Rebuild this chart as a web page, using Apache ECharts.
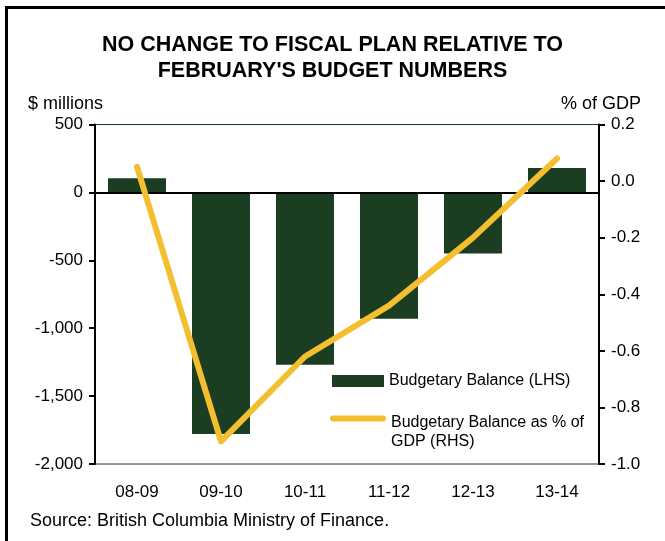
<!DOCTYPE html>
<html>
<head>
<meta charset="utf-8">
<script src="https://cdn.jsdelivr.net/npm/echarts@6/dist/echarts.min.js"></script>
<style>
  html, body { margin: 0; padding: 0; background: #ffffff; }
  #chart { width: 665px; height: 541px; }
</style>
</head>
<body>
<div id="chart"></div>
<script>
// ---- Data ----
var categories = ['08-09', '09-10', '10-11', '11-12', '12-13', '13-14'];
var balanceMillions = [105, -1780, -1270, -930, -450, 180];
var balancePctGdp = [0.05, -0.92, -0.62, -0.44, -0.20, 0.08];
var leftTicks = { min: -2000, max: 500, step: 500 };
var rightTicks = { min: -1.0, max: 0.2, step: 0.2 };

var titleText = "NO CHANGE TO FISCAL PLAN RELATIVE TO\nFEBRUARY'S BUDGET NUMBERS";
var leftAxisTitle = '$ millions';
var rightAxisTitle = '% of GDP';
var sourceText = 'Source: British Columbia Ministry of Finance.';
var barName = 'Budgetary Balance (LHS)';
var lineName = 'Budgetary Balance as % of GDP (RHS)';

var FONT = 'Liberation Sans, Arial, Helvetica, sans-serif';
var GREEN = '#1B3D22';
var GOLD = '#F3BF2F';

var chart = echarts.init(document.getElementById('chart'), null, { renderer: 'canvas' });

var option = {
  backgroundColor: '#ffffff',
  animation: false,
  title: {
    text: titleText,
    left: 'center',
    top: 27,
    textStyle: { fontFamily: FONT, fontSize: 21.5, fontWeight: 'bold', color: '#000', lineHeight: 26 }
  },
  grid: {
    left: 95, right: 66, top: 124.5, bottom: 77,
    show: true, borderColor: GREEN, borderWidth: 1, backgroundColor: 'transparent'
  },
  legend: [
    {
      data: [barName],
      orient: 'vertical',
      left: 327, top: 368,
      itemWidth: 52, itemHeight: 12, itemGap: 5,
      icon: 'rect',
      selectedMode: false,
      textStyle: { fontFamily: FONT, fontSize: 16, color: '#000' }
    },
    {
      data: [{ name: lineName, icon: 'path://M3,0 L53,0 A3,3 0 0 1 53,6 L3,6 A3,3 0 0 1 3,0 Z' }],
      orient: 'vertical',
      left: 325, top: 386.5,
      itemWidth: 56, itemHeight: 6, itemGap: 5,
      selectedMode: false,
      formatter: function () { return '{a| }\n{b|Budgetary Balance as % of}\n{b|GDP (RHS)}'; },
      textStyle: {
        fontFamily: FONT, fontSize: 16, color: '#000',
        rich: {
          a: { fontFamily: FONT, fontSize: 16, lineHeight: 27 },
          b: { fontFamily: FONT, fontSize: 16, lineHeight: 19, color: '#000' }
        }
      }
    }
  ],
  xAxis: {
    type: 'category',
    data: categories,
    boundaryGap: true,
    position: 'bottom',
    axisLine: { show: false },
    axisTick: { show: false },
    axisLabel: { margin: 20, fontFamily: FONT, fontSize: 17, color: '#000' },
    splitLine: { show: false }
  },
  yAxis: [
    {
      type: 'value',
      min: leftTicks.min, max: leftTicks.max, interval: leftTicks.step,
      position: 'left',
      axisLine: { show: true, lineStyle: { color: '#000', width: 2 } },
      axisTick: { show: true, inside: false, length: 6, lineStyle: { color: '#000', width: 2 } },
      axisLabel: {
        margin: 12, fontFamily: FONT, fontSize: 17, color: '#000',
        formatter: function (v) { return Math.round(v).toLocaleString('en-US'); }
      },
      splitLine: { show: false }
    },
    {
      type: 'value',
      min: rightTicks.min, max: rightTicks.max, interval: rightTicks.step,
      position: 'right',
      axisLine: { show: true, lineStyle: { color: '#000', width: 2 } },
      axisTick: { show: true, inside: false, length: 6, lineStyle: { color: '#000', width: 2 } },
      axisLabel: {
        margin: 12, fontFamily: FONT, fontSize: 17, color: '#000',
        formatter: function (v) { return Math.abs(v) < 1e-9 ? '0.0' : v.toFixed(1); }
      },
      splitLine: { show: false }
    }
  ],
  series: [
    {
      name: barName,
      type: 'bar',
      yAxisIndex: 0,
      data: balanceMillions,
      barWidth: 58,
      itemStyle: { color: GREEN },
      markLine: {
        silent: true,
        symbol: 'none',
        label: { show: false },
        lineStyle: { color: '#000', width: 2, type: 'solid' },
        data: [{ yAxis: 0 }]
      }
    },
    {
      name: lineName,
      type: 'line',
      yAxisIndex: 1,
      data: balancePctGdp,
      showSymbol: false,
      symbol: 'none',
      z: 5,
      lineStyle: { color: GOLD, width: 6, cap: 'round', join: 'round' },
      itemStyle: { color: GOLD }
    }
  ],
  graphic: [
    { type: 'line', shape: { x1: 5, y1: 7.5, x2: 665, y2: 7.5 }, style: { stroke: '#000', lineWidth: 3 } },
    { type: 'line', shape: { x1: 6.5, y1: 6, x2: 6.5, y2: 541 }, style: { stroke: '#000', lineWidth: 3 } },
    { type: 'text', left: 28, top: 95, style: { text: leftAxisTitle, font: '18px ' + FONT, fill: '#000' } },
    { type: 'text', right: 24, top: 95, style: { text: rightAxisTitle, font: '18px ' + FONT, fill: '#000' } },
    { type: 'text', left: 30, top: 512, style: { text: sourceText, font: '18px ' + FONT, fill: '#000' } }
  ]
};

chart.setOption(option);
</script>
</body>
</html>
